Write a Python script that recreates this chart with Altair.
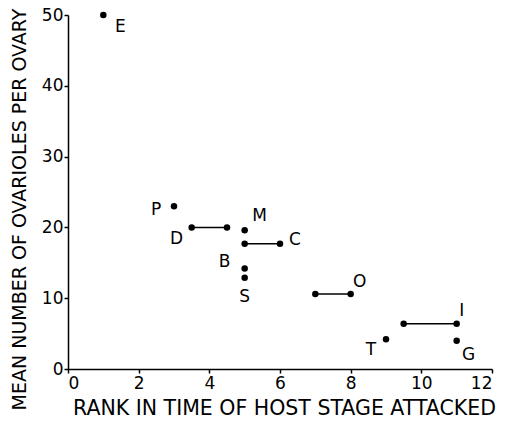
import altair as alt
import pandas as pd

# species attacking a single host stage (rank, mean ovarioles)
pt_labels = ["E", "P", "M", "B", "S", "T", "G"]
pt_x = [1, 3, 5, 5, 5, 9, 11]
pt_y = [50, 23, 19.6, 14.2, 12.9, 4.2, 4.0]

# species attacking a range of host stages
rg_labels = ["D", "C", "O", "I"]
rg_x1 = [3.5, 5, 7, 9.5]
rg_x2 = [4.5, 6, 8, 11]
rg_y = [20, 17.7, 10.6, 6.4]
rg_label_end = ["start", "end", "end", "end"]

x_ticks = [0, 2, 4, 6, 8, 10, 12]
y_ticks = [0, 10, 20, 30, 40, 50]

# label placement (pixels, style only)
label_offsets = {
    "E": (17, 12), "P": (-18, 4), "M": (15, -14), "B": (-20, -6),
    "S": (0, 19), "T": (-15, 11), "G": (12, 14), "D": (-15, 12),
    "C": (15, -4), "O": (9, -12), "I": (5, -13),
}

dots = pd.DataFrame({
    "x": pt_x + rg_x1 + rg_x2,
    "y": pt_y + rg_y + rg_y,
})
ranges = pd.DataFrame({"x": rg_x1, "x2": rg_x2, "y": rg_y})

lab_rows = []
for l, x, y in zip(pt_labels, pt_x, pt_y):
    lab_rows.append({"label": l, "x": x, "y": y})
for l, x1, x2, y, end in zip(rg_labels, rg_x1, rg_x2, rg_y, rg_label_end):
    lab_rows.append({"label": l, "x": x1 if end == "start" else x2, "y": y})
labels = pd.DataFrame(lab_rows)

FONT = "DejaVu Sans"

xscale = alt.Scale(domain=[0, 12], nice=False, zero=False)
yscale = alt.Scale(domain=[0, 50], nice=False, zero=False)

xaxis = alt.Axis(values=x_ticks, title="RANK IN TIME OF HOST STAGE ATTACKED",
                 titleFontSize=20.5, titleBaseline="alphabetic", titleY=45,
                 titleX=216, titleAlign="center", labelPadding=2)
yaxis = alt.Axis(values=y_ticks, title="MEAN NUMBER OF OVARIOLES PER OVARY",
                 titleFontSize=19, titleBaseline="alphabetic", titleX=-43,
                 titleY=194, titleAlign="center", titleAngle=-90,
                 labelPadding=1)

rules = alt.Chart(ranges).mark_rule(color="black", strokeWidth=1.5).encode(
    x=alt.X("x:Q", scale=xscale, axis=xaxis),
    x2="x2:Q",
    y=alt.Y("y:Q", scale=yscale, axis=yaxis),
)
points = alt.Chart(dots).mark_circle(color="black", opacity=1, size=42).encode(
    x=alt.X("x:Q", scale=xscale), y=alt.Y("y:Q", scale=yscale)
)

text_layers = []
for _, row in labels.iterrows():
    dx, dy = label_offsets[row["label"]]
    sub = labels[labels["label"] == row["label"]]
    text_layers.append(
        alt.Chart(sub).mark_text(font=FONT, fontSize=17, color="black",
                                 dx=dx, dy=dy).encode(
            x=alt.X("x:Q", scale=xscale),
            y=alt.Y("y:Q", scale=yscale),
            text="label:N",
        )
    )

chart = alt.layer(rules, points, *text_layers).properties(
    width=424, height=354,
    autosize=alt.AutoSizeParams(type="none"),
    padding={"left": 60, "top": 7, "right": 10, "bottom": 46},
    background="white",
).configure_view(stroke=None).configure_axis(
    grid=False, domainColor="black", domainWidth=1.5, tickColor="black",
    tickWidth=1.5, tickSize=4, labelFont=FONT, labelFontSize=17,
    labelColor="black", titleFont=FONT, titleColor="black",
    titleFontWeight="normal",
)

chart.save("out.html", embed_options={"renderer": "svg", "actions": False})
